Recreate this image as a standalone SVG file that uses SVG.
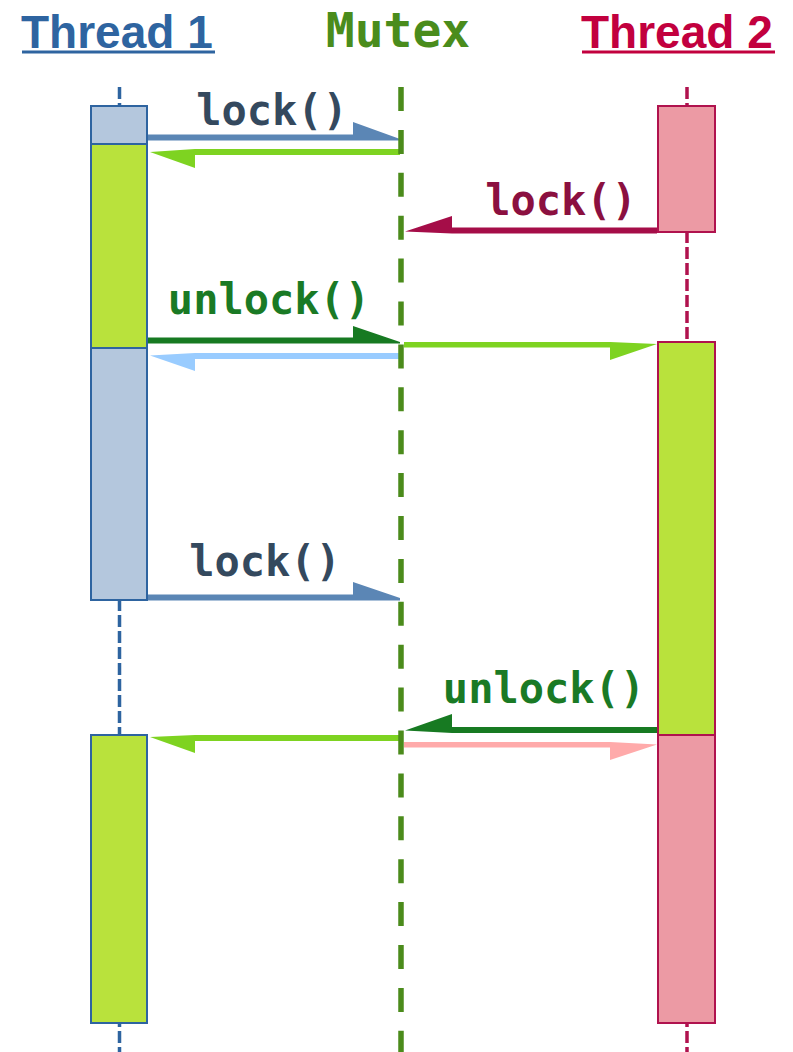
<svg xmlns="http://www.w3.org/2000/svg" width="793" height="1052" viewBox="0 0 793 1052">
<style>
.title{font-family:"Liberation Sans",Arial,sans-serif;font-weight:bold;font-size:46px}
.mono{font-family:"DejaVu Sans Mono","Liberation Mono",monospace;font-weight:bold}
.lbl{font-size:42px;text-anchor:middle}
.t1life{stroke:#2e64a0;stroke-width:3.5;stroke-dasharray:12 4;fill:none}
.t2life{stroke:#b0124e;stroke-width:3.5;stroke-dasharray:12 4;fill:none}
.t1box{stroke:#2e64a0;stroke-width:2}
.t2box{stroke:#b0124e;stroke-width:2}
.idle{fill:#b4c7dd}
.held{fill:#b9e23c}
.wait{fill:#ec9aa4}
</style>
<rect width="793" height="1052" fill="#ffffff"/>
<g id="thread1">
  <text class="title" x="21" y="48" fill="#2e64a0">Thread 1</text>
  <rect x="22" y="50.5" width="193" height="3" fill="#2e64a0"/>
  <line class="t1life" x1="119.5" y1="87" x2="119.5" y2="1052"/>
  <rect class="t1box idle" x="91" y="106" width="56" height="38"/>
  <rect class="t1box held" x="91" y="144" width="56" height="204"/>
  <rect class="t1box idle" x="91" y="348" width="56" height="252"/>
  <rect class="t1box held" x="91" y="735" width="56" height="288"/>
</g>
<g id="thread2">
  <text class="title" x="581" y="48" fill="#c2003e">Thread 2</text>
  <rect x="582" y="50.5" width="193" height="3" fill="#c2003e"/>
  <line class="t2life" x1="687" y1="87" x2="687" y2="1052"/>
  <rect class="t2box wait" x="658" y="106" width="57" height="126"/>
  <rect class="t2box held" x="658" y="342" width="57" height="393"/>
  <rect class="t2box wait" x="658" y="735" width="57" height="288"/>
</g>
<g id="connectors">
  <polygon fill="#5b86b5" points="148,134.5 353,134.5 353,122 400,139 400,140.5 148,140.5"/>
  <text class="mono lbl" x="272" y="125" fill="#34495e">lock()</text>
  <polygon fill="#7ed321" points="400,149 195,149 150,152 195,168 195,155 400,155"/>
  <polygon fill="#a50d48" points="657,227.5 452,227.5 452,216 405,231.5 452,233.5 657,233.5"/>
  <text class="mono lbl" x="561" y="215" fill="#8b1040">lock()</text>
  <polygon fill="#177a22" points="148,337.5 353,337.5 353,326 400,342 400,343.5 148,343.5"/>
  <text class="mono lbl" x="269" y="314" fill="#1a7a25">unlock()</text>
  <polygon fill="#99ccff" points="400,353 195,353 150,355.5 195,371 195,359 400,359"/>
  <polygon fill="#7ed321" points="404,342 610,342 657,344 610,360 610,347.5 404,347.5"/>
  <polygon fill="#5b86b5" points="148,594.5 353,594.5 353,582 400,598 400,600.5 148,600.5"/>
  <text class="mono lbl" x="265" y="576" fill="#34495e">lock()</text>
  <polygon fill="#177a22" points="657,727 452,727 452,714 405,730.5 452,733 657,733"/>
  <text class="mono lbl" x="544" y="703" fill="#1a7a25">unlock()</text>
  <polygon fill="#ffaaaa" points="404,742 610,742 657,744.5 610,760 610,747.5 404,747.5"/>
  <polygon fill="#7ed321" points="400,735 195,735 150,737 195,753 195,741 400,741"/>
</g>
<g id="mutex">
  <text class="mono" x="398" y="47" font-size="48" text-anchor="middle" fill="#4a8c1c">Mutex</text>
  <line x1="401" y1="87" x2="401" y2="1052" stroke="#4b8b1b" stroke-width="5.5" stroke-dasharray="24 18.9"/>
</g>
</svg>
